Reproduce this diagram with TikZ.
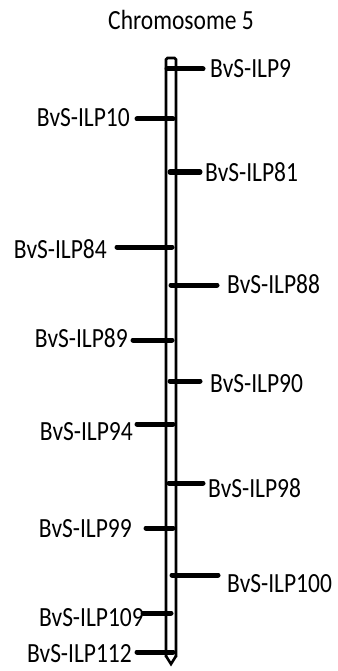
\documentclass[tikz,border=0pt]{standalone}
\usepackage{fontspec}
\setmainfont{Carlito}
\newcommand{\lbltext}[1]{\scalebox{1}[1.18]{#1}}
\begin{document}
\begin{tikzpicture}[x=1pt,y=-1pt,
  lbl/.style={inner sep=0pt,font=\fontsize{23.5}{28}\selectfont},
  lblL/.style={lbl,anchor=base east},
  lblR/.style={lbl,anchor=base west},
  marker/.style={line width=5pt,line cap=round},
  chrom/.style={line width=2.6pt,line join=miter}]
\useasboundingbox (0,0) rectangle (337,671);
% title
\node[lbl,anchor=base] (title) at (181,30) {\lbltext{Chromosome 5}};
% chromosome
\draw[chrom,rounded corners=1.5pt] (166,657) -- (166,58) -- (176,58) -- (176,657);
\draw[chrom] (166,656) -- (171,664) -- (176,656);
% markers
\foreach \n/\y/\xa/\xb in {9/69/167/203,10/119/137/173,81/172/170/200,84/247/117/172,88/285/171/217,89/340/133/172,90/381/170/200,94/424/137/173,98/483/169/203,99/528/146/173,100/575/172/218,109/613/143/171,112/652/137/173}{
  \coordinate (a\n) at (\xa,\y);
  \coordinate (b\n) at (\xb,\y);
  \draw[marker] (a\n) -- (b\n);
}
% labels right
\node[lblR] (l9) at (210,78) {\lbltext{BvS-ILP9}};
\node[lblR] (l81) at (205,182) {\lbltext{BvS-ILP81}};
\node[lblR] (l88) at (227,293) {\lbltext{BvS-ILP88}};
\node[lblR] (l90) at (210,392) {\lbltext{BvS-ILP90}};
\node[lblR] (l98) at (208,497) {\lbltext{BvS-ILP98}};
\node[lblR] (l100) at (227,592) {\lbltext{BvS-ILP100}};
% labels left
\node[lblL] (l10) at (130,127) {\lbltext{BvS-ILP10}};
\node[lblL] (l84) at (107,258) {\lbltext{BvS-ILP84}};
\node[lblL] (l89) at (128,347) {\lbltext{BvS-ILP89}};
\node[lblL] (l94) at (133,440) {\lbltext{BvS-ILP94}};
\node[lblL] (l99) at (132,537) {\lbltext{BvS-ILP99}};
\node[lblL] (l109) at (144,626) {\lbltext{BvS-ILP109}};
\node[lblL] (l112) at (132,662) {\lbltext{BvS-ILP112}};
\end{tikzpicture}
\end{document}
